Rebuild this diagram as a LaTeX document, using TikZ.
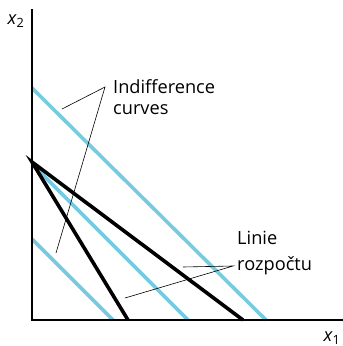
\documentclass[tikz,border=0pt]{standalone}
\usepackage{fontspec}
\setmainfont{Open Sans}
\usepackage{xcolor}
\usepackage{tikz}
\usetikzlibrary{positioning}
\definecolor{curveblue}{RGB}{118,203,224}

\begin{document}
\begin{tikzpicture}[
        x=1pt,
        y=-1pt,
        axis/.style={line width=2.6pt},
        budget/.style={line width=3.6pt},
        indiff/.style={line width=3.6pt, draw=curveblue},
        pointer/.style={line width=0.6pt},
        lbl/.style={font=\fontsize{18.2}{21}\selectfont, align=left, inner sep=0pt}
    ]
        \useasboundingbox (0,0) rectangle (343,346);

        % Axes.
        \coordinate (origin) at (32,320);
        \coordinate (ytop) at (32,9);
        \coordinate (xend) at (343,320);
        \node[lbl, anchor=center] (ylab) at (16,21) {\textit{x}\textsubscript{2}};
        \node[lbl, anchor=center] (xlab) at (332,338) {\textit{x}\textsubscript{1}};

        % Indifference curves (blue) and budget lines (black).
        \coordinate (ic1a) at (32,88);   \coordinate (ic1b) at (266,320);
        \coordinate (ic2a) at (32,164);  \coordinate (ic2b) at (188,320);
        \coordinate (ic3a) at (32,239);  \coordinate (ic3b) at (113,320);
        \draw[indiff] (ic1a) -- (ic1b);
        \draw[indiff] (ic2a) -- (ic2b);
        \draw[indiff] (ic3a) -- (ic3b);

        \coordinate (apex) at (32,162);
        \coordinate (steep) at (128,320);
        \coordinate (flat) at (243,320);
        \draw[budget] (steep) -- (apex) -- (flat);
        \draw[axis] (ytop) -- (origin) -- (xend);

        % Labels with pointers.
        \node[lbl, anchor=north west] (iclab) at (113,79.5) {Indifference\\curves};
        \node[lbl, anchor=north west, font=\fontsize{18.2}{26}\selectfont] (bllab) at (237,231) {Linie\\rozpočtu};
        \coordinate (icjoin) at (105,87);
        \coordinate (bljoin) at (233,266);
        \coordinate (icpt1) at (62,109);
        \coordinate (icpt3) at (56,253);
        \coordinate (blpt1) at (183,267);
        \coordinate (blpt2) at (125,298);
        \draw[pointer] (icpt1) -- (icjoin) -- (icpt3);
        \draw[pointer] (blpt1) -- (bljoin) -- (blpt2);

    \end{tikzpicture}
\end{document}
